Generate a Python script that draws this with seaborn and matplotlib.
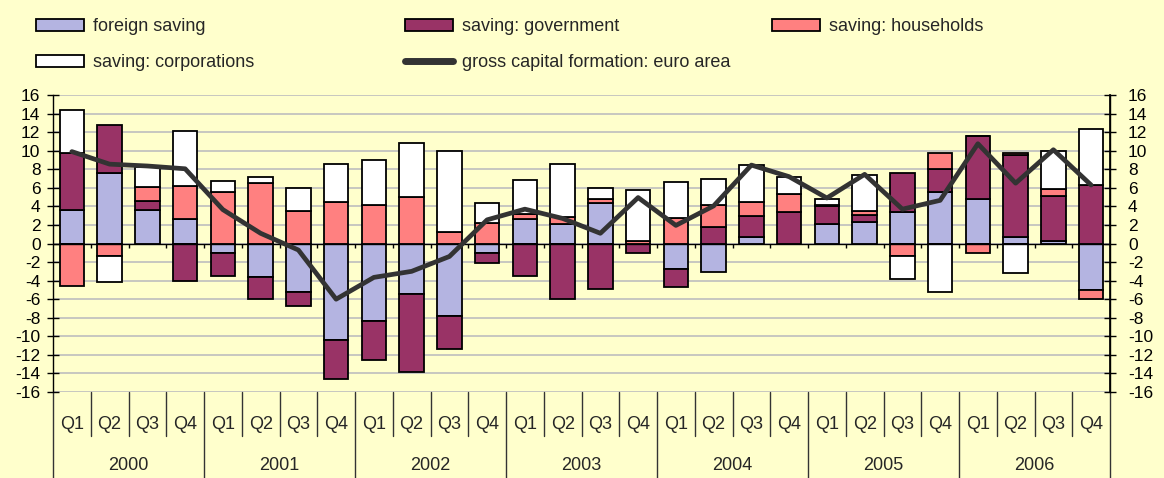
import matplotlib
matplotlib.use("Agg")
import matplotlib.pyplot as plt
import seaborn as sns
import pandas as pd
import numpy as np
from matplotlib.lines import Line2D
import matplotlib.patches as mpatches

sns.set_theme(style="white")
plt.rcParams['font.family'] = ['Liberation Sans', 'DejaVu Sans']
plt.rcParams['axes.unicode_minus'] = False

# data, percent contributions
years = ['2000', '2001', '2002', '2003', '2004', '2005', '2006']
quarters = ['Q1', 'Q2', 'Q3', 'Q4']

foreign = [3.6, 7.6, 3.6, 2.6, -1.0, -3.6, -5.2, -10.4, -8.4, -5.4, -7.8, -1.0, 2.6, 2.1,
           4.35, 0.0, -2.8, -3.05, 0.75, 0.0, 2.1, 2.3, 3.4, 5.5, 4.8, 0.75, 0.3, -5.0]
government = [6.2, 5.2, 1.0, -4.0, -2.45, -2.4, -1.5, -4.2, -4.2, -8.45, -3.6, -1.05, -3.45, -6.0,
              -4.85, -1.0, -1.85, 1.75, 2.25, 3.35, 1.9, 0.75, 4.2, 2.5, 6.8, 8.8, 4.8, 6.3]
households = [-4.6, -1.4, 1.5, 3.6, 5.5, 6.5, 3.5, 4.5, 4.2, 5.0, 1.2, 2.2, 0.55, 0.8,
              0.4, 0.3, 2.75, 2.4, 1.45, 2.0, 0.15, 0.45, -1.4, 1.8, -1.05, 0.2, 0.8, -1.0]
corporations = [4.6, -2.8, 2.1, 5.9, 1.25, 0.65, 2.5, 4.05, 4.8, 5.8, 8.8, 2.2, 3.7, 5.7,
                1.2, 5.5, 3.85, 2.85, 4.0, 1.85, 0.65, 3.9, -2.45, -5.2, 0.0, -3.2, 4.05, 6.05]
gross_capital = [9.9, 8.55, 8.35, 8.05, 3.65, 1.1, -0.7, -6.0, -3.65, -3.0, -1.4, 2.55, 3.7, 2.7,
                 1.1, 4.95, 1.95, 4.05, 8.45, 7.2, 4.9, 7.45, 3.7, 4.65, 10.75, 6.5, 10.1, 6.3]

series = {
    'foreign saving': (foreign, '#B4B4E1'),
    'saving: government': (government, '#993366'),
    'saving: households': (households, '#FF8080'),
    'saving: corporations': (corporations, '#FFFFFF'),
}

periods = [y + q for y in years for q in quarters]
n = len(periods)

bg = '#FFFFCC'
fig = plt.figure(figsize=(11.64, 4.78), dpi=100, facecolor=bg)
ax = fig.add_axes([53/1164, 1-392/478, (1110-53)/1164, (392-95)/478])
ax.set_facecolor(bg)

# stacked bars, positives and negatives stacked separately (Excel style)
pos_base = np.zeros(n)
neg_base = np.zeros(n)
for name, (vals, col) in series.items():
    v = np.array(vals)
    bottom = np.where(v >= 0, pos_base, neg_base)
    df = pd.DataFrame({'period': periods, 'value': v})
    sns.barplot(data=df, x='period', y='value', ax=ax, color=col, saturation=1,
                width=0.65, bottom=bottom, edgecolor='black', linewidth=1.3,
                errorbar=None, zorder=3)
    pos_base = pos_base + np.where(v >= 0, v, 0)
    neg_base = neg_base + np.where(v < 0, v, 0)

line_df = pd.DataFrame({'x': np.arange(n), 'gcf': gross_capital})
sns.lineplot(data=line_df, x='x', y='gcf', ax=ax, color='#333333', linewidth=3.4,
             zorder=5)

ax.set_xlim(-0.5, n - 0.5)
ax.set_ylim(-16, 16)
ax.set_yticks(range(-16, 17, 2))
ax.yaxis.grid(True, color='#BEBEBE', linewidth=1.2)
ax.set_axisbelow(True)
ax.axhline(0, color='black', linewidth=1.0, zorder=4)
ax.vlines(np.arange(n - 1) + 0.5, -0.45, 0, color='black', linewidth=1.0, zorder=4)

for s in ['top', 'bottom']:
    ax.spines[s].set_visible(False)
for s in ['left', 'right']:
    ax.spines[s].set_color('black')
    ax.spines[s].set_linewidth(1.0)

ax.set_xlabel(None)
ax.set_ylabel(None)
ax.tick_params(axis='y', direction='inout', length=8, width=1, pad=5, labelsize=12.5,
               colors='black')
ax.set_xticks(range(n))
ax.set_xticklabels(quarters * len(years), fontsize=13)
ax.tick_params(axis='x', length=0, pad=17)

ax2 = ax.twinx()
ax2.set_ylim(ax.get_ylim())
ax2.set_yticks(range(-16, 17, 2))
ax2.tick_params(axis='y', direction='inout', length=8, width=1, pad=9, labelsize=12.5,
                colors='black')
for s in ['top', 'bottom', 'left']:
    ax2.spines[s].set_visible(False)
ax2.spines['right'].set_color('black')
ax2.grid(False)

# category axis separators
tr = ax.get_xaxis_transform()
for b in np.arange(-1, n) + 0.5:
    year_edge = (b + 0.5) % 4 == 0
    y_end = -0.29 if year_edge else -0.147
    ax.plot([b, b], [0, y_end], transform=tr, color='#333333', linewidth=1.0,
            clip_on=False)
for i, yr in enumerate(years):
    ax.text(i * 4 + 1.5, -0.249, yr, transform=tr, ha='center', va='center', fontsize=13)

# legend, three columns
handles = {
    'foreign saving': mpatches.Rectangle((0, 0), 1, 1, facecolor='#B4B4E1', edgecolor='black', lw=1.3),
    'saving: government': mpatches.Rectangle((0, 0), 1, 1, facecolor='#993366', edgecolor='black', lw=1.3),
    'saving: households': mpatches.Rectangle((0, 0), 1, 1, facecolor='#FF8080', edgecolor='black', lw=1.3),
    'saving: corporations': mpatches.Rectangle((0, 0), 1, 1, facecolor='white', edgecolor='black', lw=1.3),
    'gross capital formation: euro area': Line2D([0], [0], color='#333333', lw=5, solid_capstyle='round'),
}
columns = [(['foreign saving', 'saving: corporations'], 36),
           (['saving: government', 'gross capital formation: euro area'], 405),
           (['saving: households'], 772)]
for labels, xpx in columns:
    leg = fig.legend([handles[l] for l in labels], labels, loc='upper left',
                     bbox_to_anchor=(xpx/1164, 1 - 18/478), frameon=False, fontsize=13,
                     handlelength=2.65, handleheight=0.65, handletextpad=0.5,
                     labelspacing=1.05, borderpad=0, borderaxespad=0)

fig.savefig('out.png', dpi=100, facecolor=bg)
